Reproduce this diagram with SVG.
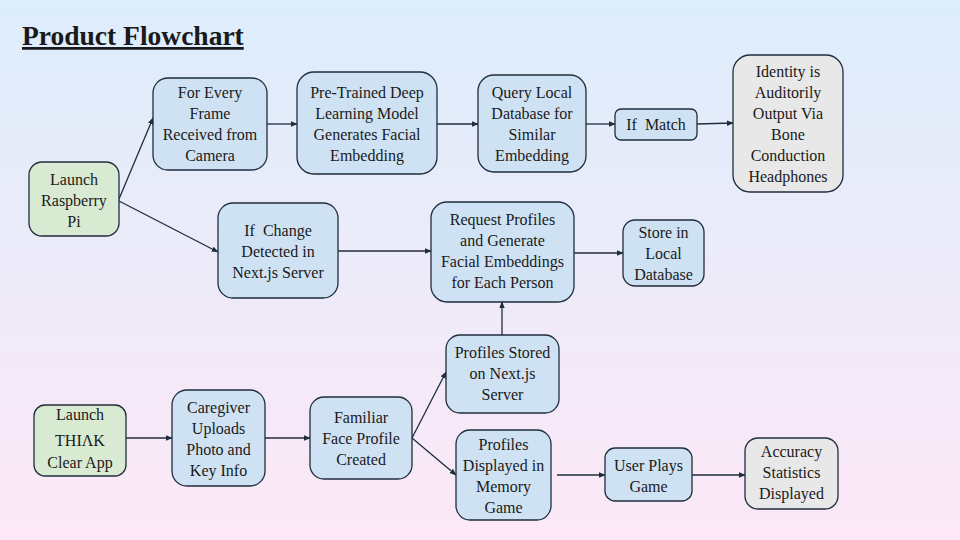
<svg xmlns="http://www.w3.org/2000/svg" width="960" height="540" viewBox="0 0 960 540">
<defs>
<linearGradient id="bg" x1="0" y1="0" x2="0" y2="1">
<stop offset="0" stop-color="#ddedfc"/>
<stop offset="1" stop-color="#fde8f6"/>
</linearGradient>
<marker id="arr" viewBox="0 0 10 10" refX="9" refY="5" markerWidth="7" markerHeight="7" orient="auto" markerUnits="userSpaceOnUse">
<path d="M0,1 L10,5 L0,9 Z" fill="#1f2d3d"/>
</marker>
</defs>
<style>
.n{stroke:#1f2d3d;stroke-width:1.3}
.b{fill:#cfe2f3}
.g{fill:#d9ead3}
.y{fill:#e8e8e8}
text{font-family:"Liberation Serif","Times New Roman",serif;font-size:16px;fill:#1a1a1a;text-anchor:middle}
.c line{stroke:#1f2d3d;stroke-width:1.3;marker-end:url(#arr)}
</style>
<rect width="960" height="540" fill="url(#bg)"/>
<text x="22" y="45" style="font-size:27.5px;font-weight:bold;text-anchor:start;text-decoration:underline">Product Flowchart</text>

<g class="c">
<line x1="119" y1="199" x2="153" y2="118"/>
<line x1="119" y1="201" x2="218" y2="252"/>
<line x1="267" y1="124" x2="297" y2="124"/>
<line x1="437" y1="124" x2="478" y2="124"/>
<line x1="586" y1="124" x2="615" y2="124"/>
<line x1="697" y1="124" x2="733" y2="123"/>
<line x1="338" y1="251" x2="431" y2="251"/>
<line x1="574" y1="253" x2="623" y2="253"/>
<line x1="502" y1="335" x2="502" y2="302"/>
<line x1="126" y1="438" x2="172" y2="438"/>
<line x1="265" y1="438" x2="310" y2="438"/>
<line x1="412" y1="438" x2="446" y2="372"/>
<line x1="412" y1="438" x2="456" y2="475"/>
<line x1="557" y1="475" x2="605" y2="475"/>
<line x1="692" y1="475" x2="745" y2="475"/>
</g>

<g id="launch-pi"><rect class="n g" x="29" y="162" width="90" height="74" rx="13"/>
<text x="74" y="185">Launch</text><text x="74" y="206">Raspberry</text><text x="74" y="227">Pi</text></g>

<g id="every-frame"><rect class="n b" x="153" y="78" width="114" height="92" rx="15"/>
<text x="210" y="98">For Every</text><text x="210" y="119">Frame</text><text x="210" y="140">Received from</text><text x="210" y="161">Camera</text></g>

<g id="pretrained"><rect class="n b" x="297" y="72" width="140" height="102" rx="17"/>
<text x="367" y="98">Pre-Trained Deep</text><text x="367" y="119">Learning Model</text><text x="367" y="140">Generates Facial</text><text x="367" y="161">Embedding</text></g>

<g id="query"><rect class="n b" x="478" y="75" width="108" height="97" rx="16"/>
<text x="532" y="98">Query Local</text><text x="532" y="119">Database for</text><text x="532" y="140">Similar</text><text x="532" y="161">Embedding</text></g>

<g id="if-match"><rect class="n b" x="615" y="109" width="82" height="31" rx="6"/>
<text x="656" y="130" xml:space="preserve">If  Match</text></g>

<g id="identity"><rect class="n y" x="733" y="55" width="110" height="137" rx="17"/>
<text x="788" y="77">Identity is</text><text x="788" y="98">Auditorily</text><text x="788" y="119">Output Via</text><text x="788" y="140">Bone</text><text x="788" y="161">Conduction</text><text x="788" y="182">Headphones</text></g>

<g id="if-change"><rect class="n b" x="218" y="203" width="120" height="95" rx="15"/>
<text x="278" y="236" xml:space="preserve">If  Change</text><text x="278" y="257">Detected in</text><text x="278" y="278">Next.js Server</text></g>

<g id="request"><rect class="n b" x="431" y="202" width="143" height="100" rx="16"/>
<text x="502.5" y="225">Request Profiles</text><text x="502.5" y="246">and Generate</text><text x="502.5" y="267">Facial Embeddings</text><text x="502.5" y="288">for Each Person</text></g>

<g id="store"><rect class="n b" x="623" y="220" width="81" height="66" rx="12"/>
<text x="663.5" y="238">Store in</text><text x="663.5" y="259">Local</text><text x="663.5" y="280">Database</text></g>

<g id="profiles-stored"><rect class="n b" x="446" y="335" width="113" height="78" rx="14"/>
<text x="502.5" y="358">Profiles Stored</text><text x="502.5" y="379">on Next.js</text><text x="502.5" y="400">Server</text></g>

<g id="launch-app"><rect class="n g" x="34" y="405" width="92" height="71" rx="11"/>
<text x="80" y="420">Launch</text><text x="80" y="446">THIΛK</text><text x="80" y="468">Clear App</text></g>

<g id="caregiver"><rect class="n b" x="172" y="390" width="93" height="96" rx="15"/>
<text x="218.5" y="413">Caregiver</text><text x="218.5" y="434">Uploads</text><text x="218.5" y="455">Photo and</text><text x="218.5" y="476">Key Info</text></g>

<g id="familiar"><rect class="n b" x="310" y="397" width="102" height="82" rx="14"/>
<text x="361" y="423">Familiar</text><text x="361" y="444">Face Profile</text><text x="361" y="465">Created</text></g>

<g id="displayed"><rect class="n b" x="456" y="430" width="95" height="90" rx="14"/>
<text x="503.5" y="450">Profiles</text><text x="503.5" y="471">Displayed in</text><text x="503.5" y="492">Memory</text><text x="503.5" y="513">Game</text></g>

<g id="user-plays"><rect class="n b" x="605" y="448" width="87" height="53" rx="10"/>
<text x="648.5" y="471">User Plays</text><text x="648.5" y="492">Game</text></g>

<g id="accuracy"><rect class="n y" x="745" y="438" width="93" height="71" rx="13"/>
<text x="791.5" y="457">Accuracy</text><text x="791.5" y="478">Statistics</text><text x="791.5" y="499">Displayed</text></g>
</svg>
